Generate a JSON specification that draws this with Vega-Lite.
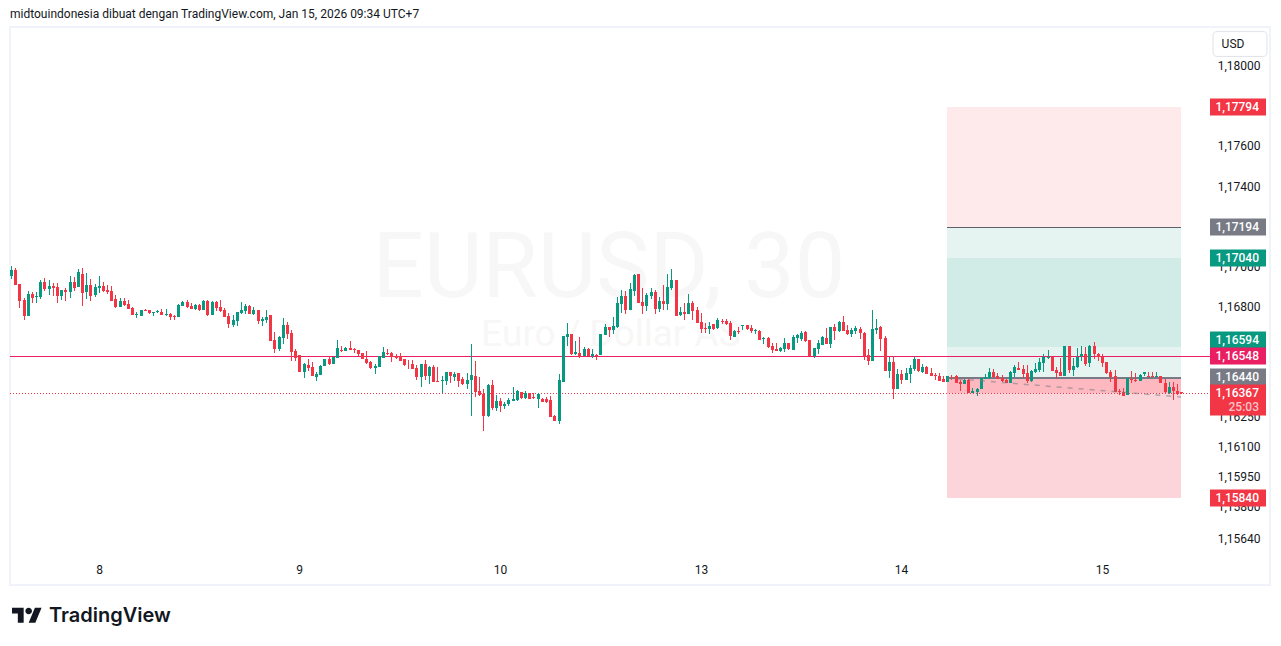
{
  "$schema": "https://vega.github.io/schema/vega-lite/v6.json",
  "width": 1260,
  "height": 558,
  "autosize": "none",
  "padding": {"left": 10, "top": 27, "right": 11, "bottom": 61},
  "background": "#ffffff",
  "view": {"stroke": "#f0f3fa", "strokeWidth": 2},
  "config": {"font": "Roboto", "text": {"font": "Roboto"}},
  "resolve": {"scale": {"color": "independent"}},
  "datasets": {
    "candles": [
{"i":0,"o":1.16948,"h":1.16998,"l":1.16933,"c":1.16978},
{"i":1,"o":1.16978,"h":1.16988,"l":1.16903,"c":1.16903},
{"i":2,"o":1.16908,"h":1.16908,"l":1.1679,"c":1.16823},
{"i":3,"o":1.16828,"h":1.16841,"l":1.16728,"c":1.16748},
{"i":4,"o":1.16748,"h":1.16873,"l":1.16748,"c":1.16858},
{"i":5,"o":1.16858,"h":1.16868,"l":1.16815,"c":1.16838},
{"i":6,"o":1.16843,"h":1.16868,"l":1.16815,"c":1.16848},
{"i":7,"o":1.16843,"h":1.16928,"l":1.16833,"c":1.16918},
{"i":8,"o":1.16918,"h":1.16938,"l":1.16873,"c":1.16883},
{"i":9,"o":1.16883,"h":1.16928,"l":1.16853,"c":1.16898},
{"i":10,"o":1.16898,"h":1.16913,"l":1.16848,"c":1.16888},
{"i":11,"o":1.16893,"h":1.16913,"l":1.16813,"c":1.16848},
{"i":12,"o":1.16848,"h":1.16878,"l":1.16828,"c":1.16878},
{"i":13,"o":1.16878,"h":1.16888,"l":1.16823,"c":1.16868},
{"i":14,"o":1.16868,"h":1.16948,"l":1.16838,"c":1.16918},
{"i":15,"o":1.16918,"h":1.16943,"l":1.16873,"c":1.16888},
{"i":16,"o":1.16893,"h":1.16983,"l":1.16893,"c":1.16968},
{"i":17,"o":1.16958,"h":1.16988,"l":1.16798,"c":1.16863},
{"i":18,"o":1.16868,"h":1.16963,"l":1.16833,"c":1.16903},
{"i":19,"o":1.16903,"h":1.16933,"l":1.16823,"c":1.16848},
{"i":20,"o":1.16853,"h":1.16908,"l":1.16843,"c":1.16893},
{"i":21,"o":1.16888,"h":1.16948,"l":1.16863,"c":1.16898},
{"i":22,"o":1.16898,"h":1.16918,"l":1.16868,"c":1.16873},
{"i":23,"o":1.16878,"h":1.16903,"l":1.16858,"c":1.16868},
{"i":24,"o":1.16873,"h":1.16898,"l":1.16823,"c":1.16823},
{"i":25,"o":1.16833,"h":1.16853,"l":1.16788,"c":1.16793},
{"i":26,"o":1.16793,"h":1.16838,"l":1.16793,"c":1.16823},
{"i":27,"o":1.16823,"h":1.16838,"l":1.16798,"c":1.16803},
{"i":28,"o":1.16808,"h":1.16828,"l":1.16783,"c":1.16783},
{"i":29,"o":1.16788,"h":1.16793,"l":1.16753,"c":1.16753},
{"i":30,"o":1.16756,"h":1.16768,"l":1.16738,"c":1.16761},
{"i":31,"o":1.16748,"h":1.16778,"l":1.16748,"c":1.16778},
{"i":32,"o":1.16778,"h":1.16783,"l":1.16773,"c":1.16773},
{"i":33,"o":1.16778,"h":1.16778,"l":1.16758,"c":1.16763},
{"i":34,"o":1.16763,"h":1.16768,"l":1.16748,"c":1.16768},
{"i":35,"o":1.16768,"h":1.16778,"l":1.16763,"c":1.16773},
{"i":36,"o":1.16768,"h":1.16783,"l":1.16753,"c":1.16753},
{"i":37,"o":1.16753,"h":1.16783,"l":1.16748,"c":1.16758},
{"i":38,"o":1.16758,"h":1.16763,"l":1.16728,"c":1.16743},
{"i":39,"o":1.16748,"h":1.16753,"l":1.16728,"c":1.16743},
{"i":40,"o":1.16743,"h":1.16808,"l":1.16743,"c":1.16803},
{"i":41,"o":1.16798,"h":1.16823,"l":1.16798,"c":1.16818},
{"i":42,"o":1.16818,"h":1.16828,"l":1.16788,"c":1.16793},
{"i":43,"o":1.16798,"h":1.16813,"l":1.16783,"c":1.16783},
{"i":44,"o":1.16783,"h":1.16808,"l":1.16778,"c":1.16803},
{"i":45,"o":1.16803,"h":1.16808,"l":1.16773,"c":1.16778},
{"i":46,"o":1.16778,"h":1.16828,"l":1.16778,"c":1.16823},
{"i":47,"o":1.16823,"h":1.16828,"l":1.16748,"c":1.16753},
{"i":48,"o":1.16753,"h":1.16823,"l":1.16753,"c":1.16818},
{"i":49,"o":1.16818,"h":1.16823,"l":1.16773,"c":1.16788},
{"i":50,"o":1.16793,"h":1.16828,"l":1.16768,"c":1.16773},
{"i":51,"o":1.16778,"h":1.16788,"l":1.16743,"c":1.16743},
{"i":52,"o":1.16748,"h":1.16763,"l":1.16688,"c":1.16708},
{"i":53,"o":1.16703,"h":1.16753,"l":1.16693,"c":1.16728},
{"i":54,"o":1.16723,"h":1.16768,"l":1.16698,"c":1.16768},
{"i":55,"o":1.16763,"h":1.16818,"l":1.16758,"c":1.16778},
{"i":56,"o":1.16773,"h":1.16808,"l":1.16758,"c":1.16798},
{"i":57,"o":1.16798,"h":1.16803,"l":1.16758,"c":1.16758},
{"i":58,"o":1.16758,"h":1.16793,"l":1.16753,"c":1.16778},
{"i":59,"o":1.16778,"h":1.16778,"l":1.16708,"c":1.16723},
{"i":60,"o":1.16723,"h":1.16743,"l":1.16698,"c":1.16733},
{"i":61,"o":1.16728,"h":1.16778,"l":1.16713,"c":1.16743},
{"i":62,"o":1.16753,"h":1.16753,"l":1.16623,"c":1.16623},
{"i":63,"o":1.16628,"h":1.16668,"l":1.16563,"c":1.16583},
{"i":64,"o":1.16583,"h":1.16648,"l":1.16573,"c":1.16643},
{"i":65,"o":1.16638,"h":1.16738,"l":1.16608,"c":1.16703},
{"i":66,"o":1.16703,"h":1.16718,"l":1.16633,"c":1.16658},
{"i":67,"o":1.16663,"h":1.16678,"l":1.16523,"c":1.16568},
{"i":68,"o":1.16573,"h":1.16583,"l":1.16523,"c":1.16538},
{"i":69,"o":1.16553,"h":1.16553,"l":1.1647,"c":1.1647},
{"i":70,"o":1.16468,"h":1.16513,"l":1.16438,"c":1.16508},
{"i":71,"o":1.16503,"h":1.16533,"l":1.16473,"c":1.16488},
{"i":72,"o":1.16493,"h":1.16518,"l":1.16448,"c":1.16448},
{"i":73,"o":1.16443,"h":1.16468,"l":1.16423,"c":1.16458},
{"i":74,"o":1.16453,"h":1.16503,"l":1.16453,"c":1.16498},
{"i":75,"o":1.16498,"h":1.16533,"l":1.16498,"c":1.16533},
{"i":76,"o":1.16533,"h":1.16543,"l":1.16503,"c":1.16508},
{"i":77,"o":1.16508,"h":1.16543,"l":1.16508,"c":1.16543},
{"i":78,"o":1.16538,"h":1.16628,"l":1.16538,"c":1.16588},
{"i":79,"o":1.16578,"h":1.16598,"l":1.16568,"c":1.16573},
{"i":80,"o":1.16573,"h":1.16593,"l":1.16573,"c":1.16588},
{"i":81,"o":1.16588,"h":1.16623,"l":1.16578,"c":1.16578},
{"i":82,"o":1.16583,"h":1.16588,"l":1.16563,"c":1.1658},
{"i":83,"o":1.16578,"h":1.16578,"l":1.16548,"c":1.16558},
{"i":84,"o":1.16563,"h":1.16563,"l":1.16533,"c":1.16533},
{"i":85,"o":1.16533,"h":1.16573,"l":1.16508,"c":1.16513},
{"i":86,"o":1.16518,"h":1.16523,"l":1.16483,"c":1.16488},
{"i":87,"o":1.16488,"h":1.16508,"l":1.16458,"c":1.16498},
{"i":88,"o":1.16493,"h":1.16548,"l":1.16493,"c":1.16548},
{"i":89,"o":1.16538,"h":1.16593,"l":1.16538,"c":1.16568},
{"i":90,"o":1.16563,"h":1.16583,"l":1.16553,"c":1.16558},
{"i":91,"o":1.16563,"h":1.16568,"l":1.16518,"c":1.16543},
{"i":92,"o":1.16548,"h":1.16558,"l":1.16533,"c":1.16538},
{"i":93,"o":1.16548,"h":1.16563,"l":1.16523,"c":1.16523},
{"i":94,"o":1.16533,"h":1.16533,"l":1.16498,"c":1.16503},
{"i":95,"o":1.16511,"h":1.16528,"l":1.16483,"c":1.16508},
{"i":96,"o":1.16508,"h":1.16528,"l":1.16483,"c":1.16483},
{"i":97,"o":1.16488,"h":1.16503,"l":1.16428,"c":1.16443},
{"i":98,"o":1.16443,"h":1.16508,"l":1.16398,"c":1.16508},
{"i":99,"o":1.16508,"h":1.16528,"l":1.16428,"c":1.16448},
{"i":100,"o":1.16448,"h":1.16498,"l":1.16408,"c":1.16493},
{"i":101,"o":1.16493,"h":1.16503,"l":1.16418,"c":1.16418},
{"i":102,"o":1.16423,"h":1.16493,"l":1.16418,"c":1.16418},
{"i":103,"o":1.16423,"h":1.16448,"l":1.16368,"c":1.16428},
{"i":104,"o":1.16423,"h":1.16468,"l":1.16403,"c":1.16468},
{"i":105,"o":1.16468,"h":1.16468,"l":1.16413,"c":1.16448},
{"i":106,"o":1.16443,"h":1.16468,"l":1.16423,"c":1.16458},
{"i":107,"o":1.16463,"h":1.16463,"l":1.16398,"c":1.16423},
{"i":108,"o":1.16433,"h":1.16443,"l":1.16403,"c":1.16408},
{"i":109,"o":1.16408,"h":1.16463,"l":1.16388,"c":1.16428},
{"i":110,"o":1.16428,"h":1.16608,"l":1.16253,"c":1.16453},
{"i":111,"o":1.16448,"h":1.16523,"l":1.16348,"c":1.16373},
{"i":112,"o":1.16378,"h":1.16443,"l":1.16353,"c":1.16358},
{"i":113,"o":1.16363,"h":1.16388,"l":1.16178,"c":1.16253},
{"i":114,"o":1.16253,"h":1.16408,"l":1.16248,"c":1.16403},
{"i":115,"o":1.16403,"h":1.16428,"l":1.16283,"c":1.16293},
{"i":116,"o":1.16293,"h":1.16358,"l":1.16278,"c":1.16328},
{"i":117,"o":1.16328,"h":1.16343,"l":1.16273,"c":1.16303},
{"i":118,"o":1.16303,"h":1.16323,"l":1.16288,"c":1.16313},
{"i":119,"o":1.16313,"h":1.16343,"l":1.16303,"c":1.16333},
{"i":120,"o":1.16328,"h":1.16398,"l":1.16328,"c":1.16338},
{"i":121,"o":1.16333,"h":1.16383,"l":1.16328,"c":1.16378},
{"i":122,"o":1.16373,"h":1.16373,"l":1.16338,"c":1.16343},
{"i":123,"o":1.16343,"h":1.16378,"l":1.16338,"c":1.16368},
{"i":124,"o":1.16368,"h":1.16368,"l":1.16338,"c":1.16338},
{"i":125,"o":1.16348,"h":1.16368,"l":1.16338,"c":1.16343},
{"i":126,"o":1.16338,"h":1.16368,"l":1.16293,"c":1.16363},
{"i":127,"o":1.16338,"h":1.16343,"l":1.16323,"c":1.16323},
{"i":128,"o":1.16338,"h":1.16348,"l":1.16318,"c":1.16323},
{"i":129,"o":1.16333,"h":1.16353,"l":1.16248,"c":1.16248},
{"i":130,"o":1.16253,"h":1.16258,"l":1.16228,"c":1.16228},
{"i":131,"o":1.16228,"h":1.16458,"l":1.16213,"c":1.16428},
{"i":132,"o":1.16418,"h":1.16648,"l":1.16418,"c":1.16648},
{"i":133,"o":1.16643,"h":1.16713,"l":1.16598,"c":1.16658},
{"i":134,"o":1.16658,"h":1.16658,"l":1.16553,"c":1.16558},
{"i":135,"o":1.16558,"h":1.16623,"l":1.16553,"c":1.16568},
{"i":136,"o":1.16563,"h":1.16643,"l":1.16538,"c":1.16543},
{"i":137,"o":1.16548,"h":1.16593,"l":1.16548,"c":1.16583},
{"i":138,"o":1.16583,"h":1.16588,"l":1.16548,"c":1.16548},
{"i":139,"o":1.16548,"h":1.16583,"l":1.16538,"c":1.16558},
{"i":140,"o":1.16555,"h":1.16558,"l":1.16528,"c":1.16551},
{"i":141,"o":1.16553,"h":1.16658,"l":1.16553,"c":1.16658},
{"i":142,"o":1.16653,"h":1.16708,"l":1.16653,"c":1.16693},
{"i":143,"o":1.16693,"h":1.16693,"l":1.16643,"c":1.16681},
{"i":144,"o":1.16678,"h":1.16743,"l":1.16658,"c":1.16698},
{"i":145,"o":1.16693,"h":1.16843,"l":1.16688,"c":1.16813},
{"i":146,"o":1.16808,"h":1.16878,"l":1.16763,"c":1.16848},
{"i":147,"o":1.16848,"h":1.16873,"l":1.16758,"c":1.16778},
{"i":148,"o":1.16778,"h":1.16913,"l":1.16778,"c":1.16883},
{"i":149,"o":1.16873,"h":1.16958,"l":1.16848,"c":1.16953},
{"i":150,"o":1.16958,"h":1.16958,"l":1.16813,"c":1.16813},
{"i":151,"o":1.16818,"h":1.16888,"l":1.16758,"c":1.16798},
{"i":152,"o":1.16798,"h":1.16863,"l":1.16773,"c":1.16853},
{"i":153,"o":1.16848,"h":1.16888,"l":1.16833,"c":1.16868},
{"i":154,"o":1.16868,"h":1.16878,"l":1.16758,"c":1.16783},
{"i":155,"o":1.16783,"h":1.16843,"l":1.16768,"c":1.16823},
{"i":156,"o":1.16823,"h":1.16903,"l":1.16778,"c":1.16808},
{"i":157,"o":1.16808,"h":1.16958,"l":1.16778,"c":1.16893},
{"i":158,"o":1.16888,"h":1.16983,"l":1.16878,"c":1.16928},
{"i":159,"o":1.16928,"h":1.16928,"l":1.16748,"c":1.16748},
{"i":160,"o":1.16753,"h":1.16793,"l":1.16748,"c":1.16768},
{"i":161,"o":1.16768,"h":1.16813,"l":1.16728,"c":1.16758},
{"i":162,"o":1.16758,"h":1.16858,"l":1.16758,"c":1.16813},
{"i":163,"o":1.16813,"h":1.16823,"l":1.16728,"c":1.16773},
{"i":164,"o":1.16778,"h":1.16793,"l":1.16713,"c":1.16713},
{"i":165,"o":1.16718,"h":1.16763,"l":1.16663,"c":1.16683},
{"i":166,"o":1.16688,"h":1.16713,"l":1.16663,"c":1.16685},
{"i":167,"o":1.16683,"h":1.16718,"l":1.16658,"c":1.16698},
{"i":168,"o":1.16708,"h":1.16708,"l":1.16678,"c":1.16683},
{"i":169,"o":1.16688,"h":1.16738,"l":1.16683,"c":1.16728},
{"i":170,"o":1.16723,"h":1.16733,"l":1.16708,"c":1.16718},
{"i":171,"o":1.16723,"h":1.16733,"l":1.16703,"c":1.16708},
{"i":172,"o":1.16713,"h":1.16723,"l":1.16628,"c":1.16648},
{"i":173,"o":1.16643,"h":1.16678,"l":1.16643,"c":1.16673},
{"i":174,"o":1.16673,"h":1.16693,"l":1.16658,"c":1.16668},
{"i":175,"o":1.16698,"h":1.16703,"l":1.16678,"c":1.16703},
{"i":176,"o":1.16703,"h":1.16703,"l":1.16678,"c":1.16683},
{"i":177,"o":1.16688,"h":1.16703,"l":1.16663,"c":1.16673},
{"i":178,"o":1.16673,"h":1.16683,"l":1.16658,"c":1.16678},
{"i":179,"o":1.16673,"h":1.16678,"l":1.16628,"c":1.16628},
{"i":180,"o":1.16633,"h":1.16643,"l":1.16608,"c":1.16638},
{"i":181,"o":1.16638,"h":1.16643,"l":1.16588,"c":1.16593},
{"i":182,"o":1.16598,"h":1.16613,"l":1.16563,"c":1.16578},
{"i":183,"o":1.16583,"h":1.16613,"l":1.16573,"c":1.16573},
{"i":184,"o":1.16573,"h":1.16593,"l":1.16568,"c":1.16588},
{"i":185,"o":1.16583,"h":1.16638,"l":1.16568,"c":1.16613},
{"i":186,"o":1.16613,"h":1.16613,"l":1.16578,"c":1.16583},
{"i":187,"o":1.16578,"h":1.16653,"l":1.16578,"c":1.16643},
{"i":188,"o":1.16638,"h":1.16658,"l":1.16613,"c":1.16653},
{"i":189,"o":1.16633,"h":1.16673,"l":1.16623,"c":1.16663},
{"i":190,"o":1.16668,"h":1.16673,"l":1.16618,"c":1.16623},
{"i":191,"o":1.16628,"h":1.16628,"l":1.16548,"c":1.16548},
{"i":192,"o":1.16548,"h":1.16588,"l":1.16538,"c":1.16588},
{"i":193,"o":1.16583,"h":1.16628,"l":1.16558,"c":1.16613},
{"i":194,"o":1.16603,"h":1.16648,"l":1.16603,"c":1.16643},
{"i":195,"o":1.16638,"h":1.16688,"l":1.16608,"c":1.16608},
{"i":196,"o":1.16608,"h":1.16693,"l":1.16588,"c":1.16693},
{"i":197,"o":1.16693,"h":1.16708,"l":1.16628,"c":1.16673},
{"i":198,"o":1.16673,"h":1.16723,"l":1.16668,"c":1.16718},
{"i":199,"o":1.16718,"h":1.16748,"l":1.16673,"c":1.16673},
{"i":200,"o":1.16678,"h":1.16703,"l":1.16653,"c":1.16658},
{"i":201,"o":1.16658,"h":1.16688,"l":1.16643,"c":1.16678},
{"i":202,"o":1.16673,"h":1.16698,"l":1.16658,"c":1.16688},
{"i":203,"o":1.16683,"h":1.16693,"l":1.16633,"c":1.16663},
{"i":204,"o":1.16663,"h":1.16668,"l":1.16528,"c":1.16548},
{"i":205,"o":1.16553,"h":1.16583,"l":1.16503,"c":1.16523},
{"i":206,"o":1.16523,"h":1.16778,"l":1.16523,"c":1.16683},
{"i":207,"o":1.16678,"h":1.16733,"l":1.16658,"c":1.16688},
{"i":208,"o":1.16693,"h":1.16698,"l":1.16573,"c":1.16633},
{"i":209,"o":1.16638,"h":1.16648,"l":1.16473,"c":1.16473},
{"i":210,"o":1.16473,"h":1.16543,"l":1.16438,"c":1.16518},
{"i":211,"o":1.16518,"h":1.16548,"l":1.16338,"c":1.16388},
{"i":212,"o":1.16388,"h":1.16483,"l":1.16388,"c":1.16458},
{"i":213,"o":1.16458,"h":1.16478,"l":1.16408,"c":1.16428},
{"i":214,"o":1.16428,"h":1.16488,"l":1.16428,"c":1.16463},
{"i":215,"o":1.16458,"h":1.16503,"l":1.16413,"c":1.16488},
{"i":216,"o":1.16483,"h":1.16543,"l":1.16473,"c":1.16533},
{"i":217,"o":1.16533,"h":1.16533,"l":1.16468,"c":1.16473},
{"i":218,"o":1.16468,"h":1.16508,"l":1.16463,"c":1.16493},
{"i":219,"o":1.16493,"h":1.16498,"l":1.16458,"c":1.16458},
{"i":220,"o":1.16463,"h":1.16488,"l":1.16448,"c":1.16448},
{"i":221,"o":1.16453,"h":1.16463,"l":1.16428,"c":1.16448},
{"i":222,"o":1.16448,"h":1.16463,"l":1.16423,"c":1.16423},
{"i":223,"o":1.16433,"h":1.16448,"l":1.16418,"c":1.16418},
{"i":224,"o":1.16418,"h":1.16451,"l":1.16418,"c":1.16448},
{"i":225,"o":1.16443,"h":1.16453,"l":1.16428,"c":1.16438},
{"i":226,"o":1.16448,"h":1.16453,"l":1.16413,"c":1.16413},
{"i":227,"o":1.16418,"h":1.16428,"l":1.16378,"c":1.16408},
{"i":228,"o":1.16408,"h":1.16433,"l":1.16408,"c":1.16428},
{"i":229,"o":1.16428,"h":1.16433,"l":1.16368,"c":1.16368},
{"i":230,"o":1.16368,"h":1.16393,"l":1.16368,"c":1.16378},
{"i":231,"o":1.16373,"h":1.16393,"l":1.16353,"c":1.16388},
{"i":232,"o":1.16388,"h":1.16438,"l":1.16388,"c":1.16438},
{"i":233,"o":1.16433,"h":1.16458,"l":1.16433,"c":1.16443},
{"i":234,"o":1.16438,"h":1.16488,"l":1.16433,"c":1.16468},
{"i":235,"o":1.16468,"h":1.16483,"l":1.16438,"c":1.16443},
{"i":236,"o":1.16448,"h":1.16463,"l":1.16433,"c":1.16433},
{"i":237,"o":1.16438,"h":1.16453,"l":1.16418,"c":1.16423},
{"i":238,"o":1.16428,"h":1.16433,"l":1.16413,"c":1.16413},
{"i":239,"o":1.16413,"h":1.16473,"l":1.16413,"c":1.16468},
{"i":240,"o":1.16463,"h":1.16503,"l":1.16443,"c":1.16493},
{"i":241,"o":1.16488,"h":1.16518,"l":1.16478,"c":1.16478},
{"i":242,"o":1.16483,"h":1.16503,"l":1.16438,"c":1.16458},
{"i":243,"o":1.16463,"h":1.16503,"l":1.16413,"c":1.16423},
{"i":244,"o":1.16423,"h":1.16478,"l":1.16418,"c":1.16473},
{"i":245,"o":1.16468,"h":1.16513,"l":1.16463,"c":1.16483},
{"i":246,"o":1.16478,"h":1.16538,"l":1.16468,"c":1.16518},
{"i":247,"o":1.16513,"h":1.16558,"l":1.16468,"c":1.16543},
{"i":248,"o":1.16538,"h":1.16578,"l":1.16533,"c":1.16543},
{"i":249,"o":1.16543,"h":1.16543,"l":1.16473,"c":1.16473},
{"i":250,"o":1.16478,"h":1.16493,"l":1.16433,"c":1.16463},
{"i":251,"o":1.16468,"h":1.16538,"l":1.16448,"c":1.16448},
{"i":252,"o":1.16448,"h":1.16598,"l":1.16448,"c":1.16598},
{"i":253,"o":1.16598,"h":1.16598,"l":1.16463,"c":1.16478},
{"i":254,"o":1.16478,"h":1.16538,"l":1.16448,"c":1.16498},
{"i":255,"o":1.16493,"h":1.16588,"l":1.16488,"c":1.16543},
{"i":256,"o":1.16548,"h":1.16598,"l":1.16523,"c":1.16558},
{"i":257,"o":1.16558,"h":1.16593,"l":1.16498,"c":1.16508},
{"i":258,"o":1.16513,"h":1.16603,"l":1.16493,"c":1.16598},
{"i":259,"o":1.16598,"h":1.16618,"l":1.16533,"c":1.16558},
{"i":260,"o":1.16558,"h":1.16563,"l":1.16523,"c":1.16543},
{"i":261,"o":1.16543,"h":1.16558,"l":1.16493,"c":1.16513},
{"i":262,"o":1.16518,"h":1.16518,"l":1.16458,"c":1.16463},
{"i":263,"o":1.16468,"h":1.16478,"l":1.16418,"c":1.16443},
{"i":264,"o":1.16448,"h":1.16478,"l":1.16371,"c":1.16373},
{"i":265,"o":1.16378,"h":1.16388,"l":1.16358,"c":1.16373},
{"i":266,"o":1.16373,"h":1.16393,"l":1.16353,"c":1.16353},
{"i":267,"o":1.16358,"h":1.16438,"l":1.16358,"c":1.16438},
{"i":268,"o":1.16433,"h":1.16473,"l":1.16413,"c":1.16428},
{"i":269,"o":1.16428,"h":1.16463,"l":1.16418,"c":1.16423},
{"i":270,"o":1.16423,"h":1.16458,"l":1.16423,"c":1.16453},
{"i":271,"o":1.16458,"h":1.16468,"l":1.16448,"c":1.16468},
{"i":272,"o":1.16448,"h":1.16468,"l":1.16443,"c":1.16443},
{"i":273,"o":1.16448,"h":1.16468,"l":1.16443,"c":1.16443},
{"i":274,"o":1.16443,"h":1.16468,"l":1.16443,"c":1.16448},
{"i":275,"o":1.16448,"h":1.16448,"l":1.16413,"c":1.16413},
{"i":276,"o":1.16413,"h":1.16433,"l":1.16363,"c":1.16373},
{"i":277,"o":1.16368,"h":1.16418,"l":1.16363,"c":1.16398},
{"i":278,"o":1.16398,"h":1.16418,"l":1.16333,"c":1.16378},
{"i":279,"o":1.16378,"h":1.16408,"l":1.16358,"c":1.16363},
{"i":280,"o":1.16373,"h":1.16373,"l":1.1636,"c":1.16367}
    ],
    "zones": [
      {"zone": "stop", "start": 223.9, "end": 279.9, "top": 1.17794, "bottom": 1.17194},
      {"zone": "reward", "start": 223.9, "end": 279.9, "top": 1.17194, "bottom": 1.1644},
      {"zone": "target", "start": 223.9, "end": 279.9, "top": 1.1704, "bottom": 1.16594},
      {"zone": "risk", "start": 223.9, "end": 279.9, "top": 1.1644, "bottom": 1.1584},
      {"zone": "open", "start": 223.9, "end": 279.9, "top": 1.1644, "bottom": 1.16367}
    ],
    "tags": [
      {"text": "1,17794", "at": 1.17794, "kind": "red"},
      {"text": "1,17194", "at": 1.17194, "kind": "grey"},
      {"text": "1,17040", "at": 1.1704, "kind": "green"},
      {"text": "1,16594", "at": 1.1663, "kind": "green"},
      {"text": "1,16548", "at": 1.16548, "kind": "pink"},
      {"text": "1,16440", "at": 1.16446, "kind": "grey"},
      {"text": "25:03", "at": 1.16294, "kind": "red"},
      {"text": "1,16367", "at": 1.16367, "kind": "red"},
      {"text": "1,15840", "at": 1.1584, "kind": "red"}
    ]
  },
  "layer": [
    {
      "data": {"values": [{"text": "EURUSD, 30", "i": 143, "p": 1.16978}]},
      "mark": {"type": "text", "fontSize": 90, "color": "#f7f7f7", "align": "center", "baseline": "middle"},
      "encoding": {
        "x": {"field": "i", "type": "quantitative", "scale": {"domain": [-0.239, 301.2], "nice": false, "zero": false, "padding": 0, "round": true}, "axis": {"orient": "bottom", "offset": -29, "domain": false, "ticks": false, "grid": false, "title": null, "values": [21, 69, 117, 165, 213, 261], "labelExpr": "['8','9','10','13','14','15'][indexof([21,69,117,165,213,261],datum.value)]", "labelFontSize": 12, "labelColor": "#131722", "labelFont": "Roboto", "labelPadding": 8, "labelOverlap": false, "labelFlush": false}},
        "y": {"field": "p", "type": "quantitative", "scale": {"domain": [1.15408, 1.18191], "nice": false, "zero": false, "padding": 0, "round": true}, "axis": {"orient": "right", "domain": false, "ticks": false, "grid": false, "title": null, "values": [1.18, 1.176, 1.174, 1.17, 1.168, 1.1625, 1.161, 1.1595, 1.158, 1.1564], "labelExpr": "replace(format(datum.value,'.5f'),'.',',')", "labelFontSize": 12, "labelColor": "#131722", "labelFont": "Roboto", "labelAlign": "right", "labelPadding": -10, "labelOverlap": false, "labelFlush": false}},
        "text": {"field": "text"}
      }
    },
    {
      "data": {"values": [{"text": "Euro / Dollar AS", "i": 143.5, "p": 1.16653}]},
      "mark": {"type": "text", "fontSize": 37, "color": "#f7f7f7", "align": "center", "baseline": "middle"},
      "encoding": {
        "x": {"field": "i", "type": "quantitative"},
        "y": {"field": "p", "type": "quantitative"},
        "text": {"field": "text"}
      }
    },
    {
      "data": {"name": "zones"},
      "mark": {"type": "rect"},
      "encoding": {
        "x": {"field": "start", "type": "quantitative"},
        "x2": {"field": "end"},
        "y": {"field": "top", "type": "quantitative"},
        "y2": {"field": "bottom"},
        "color": {"field": "zone", "type": "nominal", "legend": null, "sort": null, "scale": {"domain": ["stop", "reward", "target", "risk", "open"], "range": ["#feeaeb", "#e6f4f1", "#d1ece6", "#fbd5d9", "#fdb9bf"]}}
      }
    },
    {
      "data": {"values": [{"a": 223.9, "b": 279.9, "p": 1.17194}]},
      "mark": {"type": "rule", "color": "#5d606b", "strokeWidth": 1, "yOffset": 0.5},
      "encoding": {"x": {"field": "a", "type": "quantitative"}, "x2": {"field": "b"}, "y": {"field": "p", "type": "quantitative"}}
    },
    {
      "data": {"values": [{"a": 223.9, "b": 279.9, "p": 1.1644}]},
      "mark": {"type": "rule", "color": "#787b86", "strokeWidth": 2},
      "encoding": {"x": {"field": "a", "type": "quantitative"}, "x2": {"field": "b"}, "y": {"field": "p", "type": "quantitative"}}
    },
    {
      "data": {"values": [{"a": -0.239, "b": 286.8, "p": 1.16548}]},
      "mark": {"type": "rule", "color": "#e91e63", "strokeWidth": 1, "yOffset": 0.5},
      "encoding": {"x": {"field": "a", "type": "quantitative"}, "x2": {"field": "b"}, "y": {"field": "p", "type": "quantitative"}}
    },
    {
      "data": {"values": [{"a": -0.239, "b": 286.8, "p": 1.16367}]},
      "mark": {"type": "rule", "color": "#f23645", "strokeWidth": 1, "strokeDash": [1, 2], "yOffset": 0.5},
      "encoding": {"x": {"field": "a", "type": "quantitative"}, "x2": {"field": "b"}, "y": {"field": "p", "type": "quantitative"}}
    },
    {
      "data": {"name": "candles"},
      "mark": {"type": "rule", "strokeWidth": 1, "xOffset": 0.5},
      "encoding": {
        "x": {"field": "i", "type": "quantitative"},
        "y": {"field": "l", "type": "quantitative"},
        "y2": {"field": "h"},
        "color": {"condition": {"test": "datum.c >= datum.o", "value": "#089981"}, "value": "#f23645"}
      }
    },
    {
      "data": {"name": "candles"},
      "mark": {"type": "bar", "size": 3, "xOffset": 0.5},
      "encoding": {
        "x": {"field": "i", "type": "quantitative"},
        "y": {"field": "o", "type": "quantitative"},
        "y2": {"field": "c"},
        "color": {"condition": {"test": "datum.c >= datum.o", "value": "#089981"}, "value": "#f23645"}
      }
    },
    {
      "data": {"values": [{"i": 223.9, "p": 1.1644}, {"i": 279.9, "p": 1.16347}]},
      "mark": {"type": "line", "color": "#787b86", "opacity": 0.55, "strokeWidth": 1.5, "strokeDash": [5, 6]},
      "encoding": {"x": {"field": "i", "type": "quantitative"}, "y": {"field": "p", "type": "quantitative"}}
    },
    {
      "data": {"name": "tags"},
      "mark": {"type": "point", "shape": "M-1,-0.3H1V0.3H-1Z", "filled": true, "size": 3136, "opacity": 1, "strokeWidth": 0},
      "encoding": {
        "x": {"datum": 293.5, "type": "quantitative"},
        "y": {"field": "at", "type": "quantitative"},
        "color": {"field": "kind", "type": "nominal", "legend": null, "scale": {"domain": ["red", "grey", "green", "pink"], "range": ["#f23645", "#787b86", "#089981", "#e91e63"]}}
      }
    },
    {
      "data": {"name": "tags"},
      "mark": {"type": "text", "fontSize": 12, "fontWeight": 500, "align": "right", "baseline": "middle", "dx": 21},
      "encoding": {
        "x": {"datum": 293.5, "type": "quantitative"},
        "y": {"field": "at", "type": "quantitative"},
        "text": {"field": "text"},
        "color": {"condition": {"test": "datum.text === '25:03'", "value": "#fbc4c9"}, "value": "#ffffff"}
      }
    },
    {
      "data": {"values": [{"i": 294, "p": 1.18105}]},
      "mark": {"type": "point", "shape": "M-0.85,-0.46H0.85Q1,-0.46 1,-0.31V0.31Q1,0.46 0.85,0.46H-0.85Q-1,0.46 -1,0.31V-0.31Q-1,-0.46 -0.85,-0.46Z", "filled": false, "size": 2916, "opacity": 1, "strokeWidth": 1, "color": "#e0e3eb"},
      "encoding": {"x": {"field": "i", "type": "quantitative"}, "y": {"field": "p", "type": "quantitative"}}
    },
    {
      "data": {"values": [{"text": "USD", "i": 292.3, "p": 1.18105}]},
      "mark": {"type": "text", "fontSize": 12, "color": "#131722", "align": "center", "baseline": "middle"},
      "encoding": {"x": {"field": "i", "type": "quantitative"}, "y": {"field": "p", "type": "quantitative"}, "text": {"field": "text"}}
    },
    {
      "data": {"values": [{"text": "midtouindonesia dibuat dengan TradingView.com, Jan 15, 2026 09:34 UTC+7", "i": -0.239, "p": 1.18254}]},
      "mark": {"type": "text", "fontSize": 12, "color": "#131722", "align": "left", "baseline": "middle"},
      "encoding": {"x": {"field": "i", "type": "quantitative"}, "y": {"field": "p", "type": "quantitative"}, "text": {"field": "text"}}
    },
    {
      "data": {"values": [{"i": 3.83, "p": 1.15251}]},
      "mark": {"type": "point", "shape": "M-0.222,0.444H-0.611V-0.167H-1V-0.556H-0.222ZM0.556,0.444H0.111L0.528,-0.556H0.972ZM-0.111,-0.333a0.222,0.222 0 1,0 0.444,0a0.222,0.222 0 1,0 -0.444,0Z", "filled": true, "size": 900, "opacity": 1, "strokeWidth": 0, "color": "#131722"},
      "encoding": {"x": {"field": "i", "type": "quantitative"}, "y": {"field": "p", "type": "quantitative"}}
    },
    {
      "data": {"values": [{"text": "TradingView", "i": 9.09, "p": 1.15252}]},
      "mark": {"type": "text", "fontSize": 20, "fontWeight": 600, "font": "Inter", "color": "#131722", "align": "left", "baseline": "middle"},
      "encoding": {"x": {"field": "i", "type": "quantitative"}, "y": {"field": "p", "type": "quantitative"}, "text": {"field": "text"}}
    }
  ]
}
